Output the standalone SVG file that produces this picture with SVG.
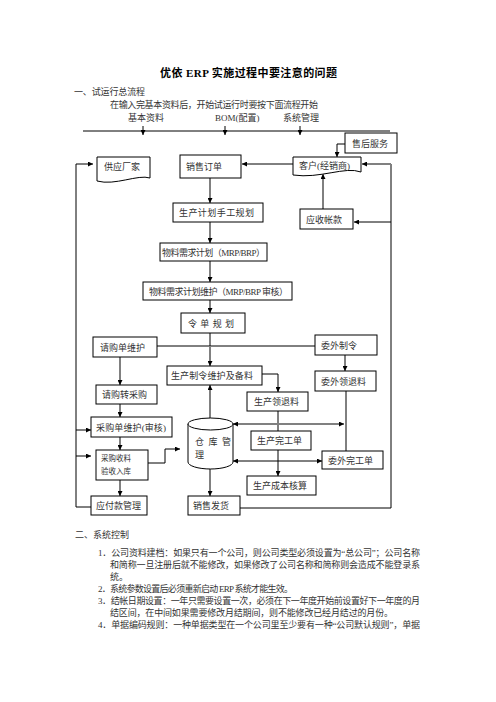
<svg xmlns="http://www.w3.org/2000/svg" width="496" height="702" viewBox="0 0 496 702">
<defs>
<style>
text{font-family:"Liberation Serif","Noto Sans CJK SC",serif;font-size:9px;fill:#333}
.tt{font-size:11px;font-weight:bold;fill:#000}
.bx{fill:#fff;stroke:#000;stroke-width:1}
.k{fill:none;stroke:#000;stroke-width:1}
.g{fill:none;stroke:#808080;stroke-width:2}
.sm{font-size:7.5px}
</style>
<marker id="a" viewBox="0 0 10 10" refX="10" refY="5" markerWidth="5" markerHeight="5" markerUnits="userSpaceOnUse" orient="auto-start-reverse"><path d="M0,0L10,5L0,10Z" fill="#000"/></marker>
</defs>
<rect width="496" height="702" fill="#fff"/>
<text class="tt" x="160" y="77" textLength="177">优依 ERP 实施过程中要注意的问题</text>
<text x="74" y="95" textLength="71">一、试运行总流程</text>
<text x="110" y="108" textLength="208">在输入完基本资料后，开始试运行时要按下面流程开始</text>
<text x="128" y="121">基本资料</text>
<text x="215" y="121">BOM(配置)</text>
<text x="283" y="121">系统管理</text>

<g id="connectors">
<line class="k" x1="83" y1="131" x2="390" y2="131"/>
<line class="k" x1="143" y1="126" x2="143" y2="135" marker-end="url(#a)"/>
<line class="k" x1="225" y1="126" x2="225" y2="135" marker-end="url(#a)"/>
<line class="k" x1="300" y1="126" x2="300" y2="135" marker-end="url(#a)"/>
<polyline class="k" points="345,144 337,144 337,157" marker-end="url(#a)"/>
<line class="k" x1="293" y1="164" x2="242" y2="164" marker-end="url(#a)"/>
<line class="k" x1="323" y1="209" x2="323" y2="174" marker-end="url(#a)"/>
<polyline class="k" points="240,508 391,508 391,164"/>
<line class="g" x1="391" y1="164" x2="362" y2="164" marker-end="url(#a)"/>
<line class="k" x1="391" y1="222" x2="354" y2="222" marker-end="url(#a)"/>
<line class="g" x1="210" y1="178" x2="210" y2="203" marker-end="url(#a)"/>
<line class="g" x1="210" y1="222" x2="210" y2="243" marker-end="url(#a)"/>
<line class="g" x1="210" y1="261" x2="210" y2="282" marker-end="url(#a)"/>
<line class="g" x1="210" y1="300" x2="210" y2="313" marker-end="url(#a)"/>
<line class="k" x1="210" y1="333" x2="210" y2="346"/>
<line class="k" x1="157" y1="346" x2="315" y2="346"/>
<line class="g" x1="210" y1="346" x2="210" y2="366" marker-end="url(#a)"/>
<polyline class="k" points="262,374 278,374 278,392" marker-end="url(#a)"/>
<line class="g" x1="345" y1="355" x2="345" y2="371" marker-end="url(#a)"/>
<line class="k" x1="346" y1="391" x2="346" y2="451"/>
<line class="k" x1="278" y1="411" x2="278" y2="431"/>
<line class="k" x1="278" y1="450" x2="278" y2="476" marker-end="url(#a)"/>
<line class="g" x1="233" y1="424" x2="344" y2="424" marker-start="url(#a)" marker-end="url(#a)"/>
<line class="k" x1="233" y1="461" x2="322" y2="461" marker-start="url(#a)" marker-end="url(#a)"/>
<line class="g" x1="210" y1="418" x2="210" y2="385" marker-end="url(#a)"/>
<line class="g" x1="210" y1="469" x2="210" y2="496" marker-end="url(#a)"/>
<line class="g" x1="120" y1="357" x2="120" y2="385" marker-end="url(#a)"/>
<line class="g" x1="120" y1="404" x2="120" y2="417" marker-end="url(#a)"/>
<line class="g" x1="120" y1="437" x2="120" y2="450" marker-end="url(#a)"/>
<line class="g" x1="120" y1="480" x2="120" y2="496" marker-end="url(#a)"/>
<polyline class="k" points="148,463 165,463 165,449 180,449" marker-end="url(#a)"/>
<polyline class="k" points="91,507 76,507 76,164 93,164" marker-end="url(#a)"/>
<line class="k" x1="76" y1="430" x2="91" y2="430" marker-end="url(#a)"/>
<line class="k" x1="76" y1="456" x2="91" y2="456" marker-end="url(#a)"/>
</g>

<g id="n-shfw"><rect class="bx" x="345" y="133" width="52" height="20"/><text x="352" y="147">售后服务</text></g>
<g id="n-gycj"><path class="bx" d="M97,157H150V178C138,174 115,186 97,181Z"/><text x="104" y="170">供应厂家</text></g>
<g id="n-xsdd"><rect class="bx" x="180" y="155" width="61" height="23"/><text x="186" y="170">销售订单</text></g>
<g id="n-kh"><path class="bx" d="M293,157H361V172C345,166 320,179 293,175Z"/><text x="299" y="169">客户(经销商)</text></g>
<g id="n-scjh"><rect class="bx" x="173" y="203" width="90" height="19"/><text x="179" y="216" textLength="75">生产计划手工规划</text></g>
<g id="n-yszk"><rect class="bx" x="300" y="209" width="53" height="20"/><text x="306" y="223">应收帐款</text></g>
<g id="n-mrp"><rect class="bx" x="160" y="243" width="107" height="18"/><text x="162" y="256" textLength="103">物料需求计划（MRP/BRP）</text></g>
<g id="n-mrpwh"><rect class="bx" x="143" y="282" width="149" height="18"/><text x="149" y="295" textLength="139">物料需求计划维护（MRP/BRP 审核）</text></g>
<g id="n-ldgh"><rect class="bx" x="181" y="313" width="64" height="20"/><text x="188" y="327" textLength="46">令 单 规 划</text></g>
<g id="n-qgd"><rect class="bx" x="93" y="337" width="64" height="20"/><text x="100" y="351">请购单维护</text></g>
<g id="n-wwzl"><rect class="bx" x="315" y="335" width="62" height="20"/><text x="321" y="349">委外制令</text></g>
<g id="n-sczl"><rect class="bx" x="167" y="366" width="95" height="19"/><text x="171" y="379" textLength="82">生产制令维护及备料</text></g>
<g id="n-qgzcg"><rect class="bx" x="96" y="385" width="61" height="19"/><text x="102" y="398">请购转采购</text></g>
<g id="n-wwltl"><rect class="bx" x="315" y="371" width="61" height="20"/><text x="321" y="385">委外领退料</text></g>
<g id="n-scltl"><rect class="bx" x="247" y="392" width="61" height="19"/><text x="254" y="405">生产领退料</text></g>
<g id="n-cgd"><rect class="bx" x="91" y="417" width="81" height="20"/><text x="96" y="431" textLength="70">采购单维护(审核)</text></g>
<g id="n-cgsl"><rect class="bx" x="96" y="450" width="52" height="30"/><text class="sm" x="101" y="461">采购收料</text><text class="sm" x="101" y="474">验收入库</text></g>
<g id="n-ck"><path class="bx" d="M188,424V462A22.5,7 0 0 0 233,462V424"/><ellipse class="bx" cx="210.5" cy="424" rx="22.5" ry="6"/><text x="195" y="445" textLength="36">仓 库 管</text><text x="195" y="458">理</text></g>
<g id="n-scwgd"><rect class="bx" x="251" y="431" width="60" height="19"/><text x="257" y="444">生产完工单</text></g>
<g id="n-wwwgd"><rect class="bx" x="322" y="451" width="61" height="18"/><text x="328" y="464">委外完工单</text></g>
<g id="n-cbhs"><rect class="bx" x="247" y="476" width="69" height="19"/><text x="253" y="489">生产成本核算</text></g>
<g id="n-yfk"><rect class="bx" x="91" y="496" width="56" height="19"/><text x="96" y="509">应付款管理</text></g>
<g id="n-xsfh"><rect class="bx" x="188" y="496" width="52" height="19"/><text x="193" y="509">销售发货</text></g>

<text x="75" y="538">二、系统控制</text>
<text x="98" y="556" textLength="322">1．公司资料建档：如果只有一个公司，则公司类型必须设置为“总公司”；公司名称</text>
<text x="110" y="568" textLength="310">和简称一旦注册后就不能修改，如果修改了公司名称和简称则会造成不能登录系</text>
<text x="110" y="580">统。</text>
<text x="98" y="592" textLength="195">2．系统参数设置后必须重新启动 ERP 系统才能生效。</text>
<text x="98" y="604" textLength="322">3．结帐日期设置：一年只需要设置一次，必须在下一年度开始前设置好下一年度的月</text>
<text x="110" y="616" textLength="283">结区间，在中间如果需要修改月结期间，则不能修改已经月结过的月份。</text>
<text x="98" y="628" textLength="322">4．单据编码规则：一种单据类型在一个公司里至少要有一种“公司默认规则”，单据</text>
</svg>
